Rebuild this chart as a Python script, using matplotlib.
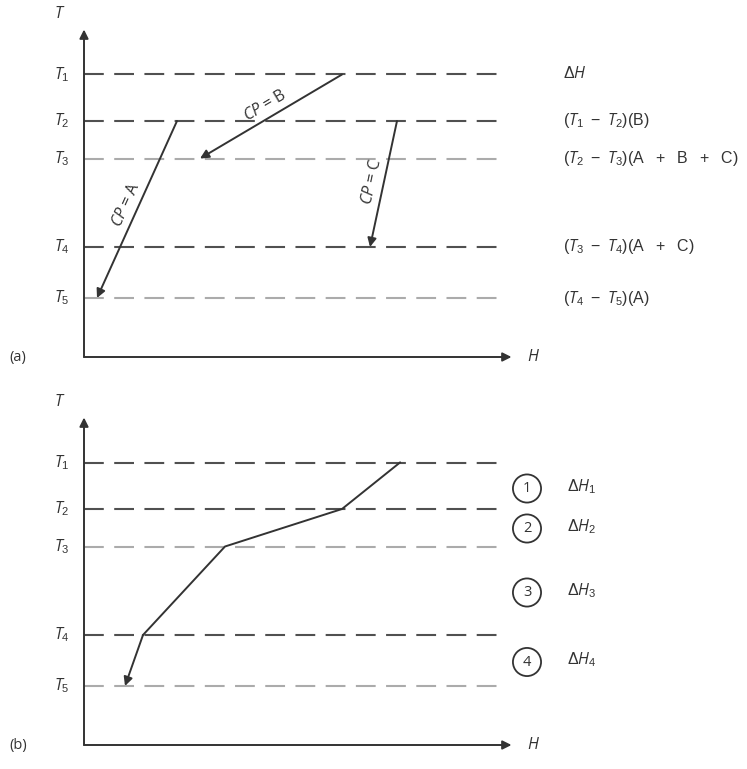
import numpy as np
import matplotlib.pyplot as plt

plt.rcParams['font.family'] = ['Open Sans', 'DejaVu Sans']
plt.rcParams['mathtext.fontset'] = 'custom'
plt.rcParams['mathtext.rm'] = 'Liberation Sans'
plt.rcParams['mathtext.it'] = 'Open Sans:italic'

# temperature levels T1..T5 (same for both diagrams)
t_levels = [5.65, 4.72, 3.97, 2.2, 1.18]
t_names = [r'$T_1$', r'$T_2$', r'$T_3$', r'$T_4$', r'$T_5$']
dash_col = ['#505050', '#505050', '#ababab', '#505050', '#ababab']

# (a) individual streams: start H, start T index, end H, end T index
streams = ['B', 'A', 'C']
s_h0 = [5.16, 1.86, 6.26]
s_t0 = [0, 1, 1]
s_h1 = [2.32, 0.26, 5.72]
s_t1 = [2, 4, 3]
a_labels = [r'$\Delta H$',
            r'$(T_1\ -\ T_2)(\mathrm{B})$',
            r'$(T_2\ -\ T_3)(\mathrm{A}\ \ +\ \ \mathrm{B}\ \ +\ \ \mathrm{C})$',
            r'$(T_3\ -\ T_4)(\mathrm{A}\ \ +\ \ \mathrm{C})$',
            r'$(T_4\ -\ T_5)(\mathrm{A})$']

# (b) composite curve H at each T level
comp_h = [6.32, 5.16, 2.82, 1.18, 0.82]
intervals = ['1', '2', '3', '4']
b_labels = [r'$\Delta H_1$', r'$\Delta H_2$', r'$\Delta H_3$', r'$\Delta H_4$']
int_t = [5.17, 4.37, 3.09, 1.7]

W, H = 747, 769
fig = plt.figure(figsize=(W / 100, H / 100), dpi=100)
ink = '#333333'
fs = 11.5


def arrow(ax, start, end):
    ax.annotate('', xy=end, xytext=start,
                arrowprops=dict(arrowstyle='-|>', color=ink, lw=1.4, mutation_scale=13,
                                shrinkA=0, shrinkB=0))


def frame(ax, tag):
    ax.set_xlim(-84 / 50, (W - 84) / 50)
    ax.set_aspect('equal')
    ax.axis('off')
    arrow(ax, (0, 0), (0, 6.55))
    arrow(ax, (0, 0), (8.55, 0))
    ax.text(-0.48, 6.85, r'$T$', fontsize=fs, ha='center', va='center', color=ink)
    ax.text(8.98, 0, r'$H$', fontsize=fs, ha='center', va='center', color=ink)
    ax.text(-1.32, 0, tag, fontsize=fs - 1, ha='center', va='center', color=ink)
    for t, name, c in zip(t_levels, t_names, dash_col):
        ax.plot([0, 8.28], [t, t], color=c, lw=1.5, dashes=(9.5, 5))
        ax.text(-0.44, t, name, fontsize=fs, ha='center', va='center', color=ink)


# panel (a)
ax = fig.add_axes([0, 1 - 385 / H, 1, 385 / H])
ax.set_ylim(-28 / 50, 357 / 50)
frame(ax, '(a)')
for name, h0, i0, h1, i1 in zip(streams, s_h0, s_t0, s_h1, s_t1):
    y0, y1 = t_levels[i0], t_levels[i1]
    arrow(ax, (h0, y0), (h1, y1))
    ang = np.degrees(np.arctan2(y0 - y1, h0 - h1))
    mx, my = (h0 + h1) / 2, (y0 + y1) / 2
    nx, ny = -np.sin(np.radians(ang)), np.cos(np.radians(ang))
    off = 0.24
    ax.text(mx + nx * off, my + ny * off, r'$CP$ = ' + name, fontsize=fs,
            rotation=ang, ha='center', va='center', color=ink, rotation_mode='anchor')
for t, lab in zip(t_levels, a_labels):
    ax.text(9.58, t, lab, fontsize=fs, ha='left', va='center', color=ink)

# panel (b)
ax = fig.add_axes([0, 0, 1, 384 / H])
ax.set_ylim(-24 / 50, 360 / 50)
frame(ax, '(b)')
ax.plot(comp_h[:-1], t_levels[:-1], color=ink, lw=1.4)
arrow(ax, (comp_h[-2], t_levels[-2]), (comp_h[-1], t_levels[-1]))
for t, num, lab in zip(int_t, intervals, b_labels):
    ax.text(8.86, t, num, fontsize=fs - 1, ha='center', va='center_baseline', color=ink,
            bbox=dict(boxstyle='circle,pad=0.45', fc='white', ec=ink, lw=1.3))
    ax.text(9.66, t, lab, fontsize=fs, ha='left', va='center', color=ink)

fig.savefig('out.png', dpi=100)
